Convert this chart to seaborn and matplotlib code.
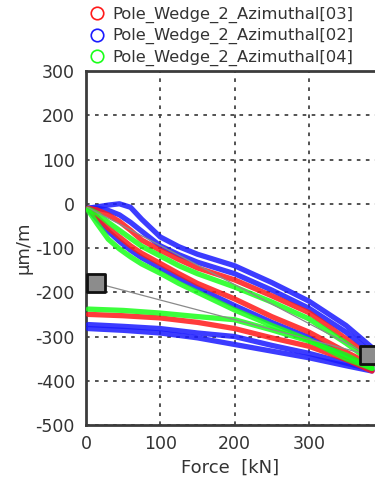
import numpy as np
import pandas as pd
import matplotlib
matplotlib.use("Agg")
import matplotlib.pyplot as plt
import seaborn as sns
from matplotlib.lines import Line2D
from matplotlib.ticker import MultipleLocator

sns.set_style("white")
plt.rcParams['font.family'] = ['DejaVu Sans']
plt.rcParams['axes.unicode_minus'] = False

# ---- data ----
series_names = ["Pole_Wedge_2_Azimuthal[03]", "Pole_Wedge_2_Azimuthal[02]", "Pole_Wedge_2_Azimuthal[04]"]
series_colors = ["#ff1a1a", "#1a1aff", "#1aff1a"]

# loading (upper) branches
up_force = [3, 15, 30, 45, 60, 75, 100, 125, 150, 200, 250, 300, 350, 385]
B1_up = [-10, -7, -3, 0, -8, -35, -75, -97, -114, -140, -178, -220, -275, -325]
B2_up = [-10, -10, -15, -25, -42, -62, -95, -115, -132, -158, -195, -236, -290, -338]
R1_up = [-10, -14, -25, -40, -60, -82, -105, -126, -145, -172, -208, -246, -305, -350]
G1_up = [-12, -22, -42, -60, -78, -96, -118, -140, -158, -188, -222, -260, -315, -358]
R2_up = [-12, -30, -55, -75, -95, -112, -135, -158, -180, -215, -255, -290, -335, -365]
B3_up = [-12, -35, -62, -85, -105, -122, -145, -168, -190, -230, -268, -302, -345, -368]
G2_up = [-15, -45, -80, -102, -120, -136, -157, -180, -200, -240, -275, -308, -350, -372]

# unloading (lower) branches
low_force = [3, 50, 100, 150, 200, 250, 300, 350, 385]
G_low = [-238, -241, -247, -255, -262, -285, -310, -342, -372]
R_low = [-250, -253, -258, -268, -282, -303, -322, -352, -378]
B1_low = [-273, -277, -282, -292, -300, -320, -338, -360, -375]
B2_low = [-282, -286, -292, -303, -318, -333, -348, -366, -378]

# cursors
cursor_x = [13, 381]
cursor_y = [-179, -342]
origin_x = [2]
origin_y = [-8]

# ---- build long table ----
rows = []
def add(name, branch, xs, ys):
    for x, y in zip(xs, ys):
        rows.append({"force": x, "strain": y, "series": name, "branch": branch})

add(series_names[1], "B1u", up_force, B1_up)
add(series_names[1], "B2u", up_force, B2_up)
add(series_names[1], "B3u", up_force, B3_up)
add(series_names[1], "B1l", low_force, B1_low)
add(series_names[1], "B2l", low_force, B2_low)
add(series_names[0], "R1u", up_force, R1_up)
add(series_names[0], "R2u", up_force, R2_up)
add(series_names[0], "Rl", low_force, R_low)
add(series_names[2], "G1u", up_force, G1_up)
add(series_names[2], "G2u", up_force, G2_up)
add(series_names[2], "Gl", low_force, G_low)
df = pd.DataFrame(rows)

fig = plt.figure(figsize=(3.75, 4.79), dpi=100)
ax = fig.add_axes([0.2293, 0.1127, 0.7707, 0.739])

palette = dict(zip(series_names, series_colors))
for name in [series_names[1], series_names[0], series_names[2]]:
    sub = df[df.series == name]
    sns.lineplot(data=sub, x="force", y="strain", units="branch", estimator=None,
                 sort=False, color=palette[name], linewidth=3.8, alpha=0.85,
                 ax=ax, legend=False, zorder=3)

# cursor lines and boxes
ax.plot([origin_x[0], cursor_x[1]], [origin_y[0], cursor_y[1]], color="#8a8a8a", lw=0.9, zorder=4)
ax.plot(cursor_x, cursor_y, color="#8a8a8a", lw=0.9, zorder=4)
ax.scatter(cursor_x, cursor_y, marker="s", s=175, facecolor="#8c8c8c",
           edgecolor="#111111", linewidth=2, zorder=6, clip_on=False)

ax.set_xlim(0, 389)
ax.set_ylim(-500, 300)
ax.xaxis.set_major_locator(MultipleLocator(100))
ax.xaxis.set_minor_locator(MultipleLocator(50))
ax.yaxis.set_major_locator(MultipleLocator(100))
ax.yaxis.set_minor_locator(MultipleLocator(20))

ax.grid(True, which="major", color="#444444", linestyle=(0, (2, 3)), linewidth=1.3)
ax.set_axisbelow(True)
for s in ["left", "bottom", "top"]:
    ax.spines[s].set_color("#3c3c3c")
    ax.spines[s].set_linewidth(2)
ax.spines["right"].set_visible(False)

ax.tick_params(which="major", direction="out", length=4, width=1.5, color="#3c3c3c",
               labelsize=12.5, labelcolor="#333333", pad=4)
ax.tick_params(which="minor", direction="in", length=7, width=1.5, color="#3c3c3c")
ax.tick_params(axis="x", which="both", top=False)
ax.tick_params(axis="x", which="major", pad=3)

ax.set_xlabel("Force  [kN]", fontsize=13, color="#333333", labelpad=4)
ax.set_ylabel("µm/m", fontsize=13, color="#333333", labelpad=2)

handles = [Line2D([], [], marker="o", linestyle="none", markerfacecolor="none",
                  markeredgecolor=c, markersize=9, markeredgewidth=1.2)
           for c in series_colors]
fig.legend(handles, series_names, loc="upper left", bbox_to_anchor=(0.205, 1.01),
           frameon=False, fontsize=11.8, handlelength=1.0, handletextpad=0.45,
           labelspacing=0.33, borderpad=0.2, labelcolor="#333333")

fig.savefig("out.png", dpi=100)
